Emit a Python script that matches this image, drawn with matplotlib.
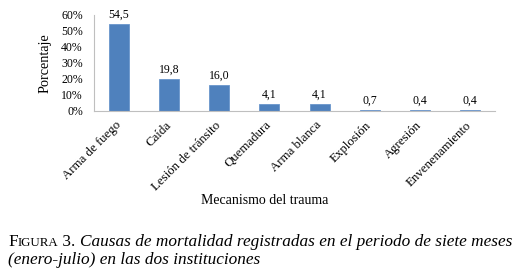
import matplotlib
matplotlib.use("Agg")
import matplotlib.pyplot as plt
from matplotlib.ticker import PercentFormatter

categorias = ["Arma de fuego", "Caída", "Lesión de tránsito", "Quemadura",
              "Arma blanca", "Explosión", "Agresión", "Envenenamiento"]
porcentajes = [54.5, 19.8, 16.0, 4.1, 4.1, 0.7, 0.4, 0.4]
etiquetas = ["54,5", "19,8", "16,0", "4,1", "4,1", "0,7", "0,4", "0,4"]
yticks = [0, 10, 20, 30, 40, 50, 60]

plt.rcParams['font.family'] = ['Liberation Serif', 'DejaVu Serif']

W, H = 520, 277
fig = plt.figure(figsize=(W / 100, H / 100), dpi=100)
ax = fig.add_axes([94 / W, 1 - 111 / H, 401 / W, 96 / H])

x = range(len(categorias))
ax.bar(x, porcentajes, width=0.4, color='#4F81BD', edgecolor='#6A96CC', linewidth=0.6)
for xi, v, t in zip(x, porcentajes, etiquetas):
    ax.text(xi, v + 2.2, t, ha='center', va='bottom', fontsize=8.5)

ax.set_xlim(-0.5, 7.5)
ax.set_ylim(0, 60)
ax.set_yticks(yticks)
ax.yaxis.set_major_formatter(PercentFormatter(decimals=0))
ax.tick_params(axis='y', length=0, labelsize=8.5, pad=8)
ax.tick_params(axis='x', length=0, labelsize=9.3, pad=9)
ax.set_xticks(list(x))
ax.set_xticklabels(categorias, rotation=45, ha='right', va='center', rotation_mode='anchor')
for s in ['top', 'right']:
    ax.spines[s].set_visible(False)
for s in ['left', 'bottom']:
    ax.spines[s].set_color('#BFBFBF')
    ax.spines[s].set_linewidth(0.8)

fig.text(45 / W, 1 - 63 / H, "Porcentaje", rotation=90, ha='center', va='center', fontsize=10.3)
fig.text(265 / W, 1 - 200 / H, "Mecanismo del trauma", ha='center', va='center', fontsize=10)

# caption with small caps "FIGURA"
fig.canvas.draw()
r = fig.canvas.get_renderer()
y1 = 1 - 246 / H
xpos = 8 / W
for txt, size, style in [("F", 12.4, 'normal'), ("IGURA", 9.3, 'normal'), (" 3. ", 12.4, 'normal'),
                         ("Causas de mortalidad registradas en el periodo de siete meses", 12.4, 'italic')]:
    t = fig.text(xpos, y1, txt, fontsize=size, style=style, ha='left', va='baseline')
    bb = t.get_window_extent(renderer=r)
    xpos = bb.x1 / W
fig.text(8 / W, 1 - 264 / H, "(enero-julio) en las dos instituciones", fontsize=12.4,
         style='italic', ha='left', va='baseline')

fig.savefig("out.png", dpi=100)
